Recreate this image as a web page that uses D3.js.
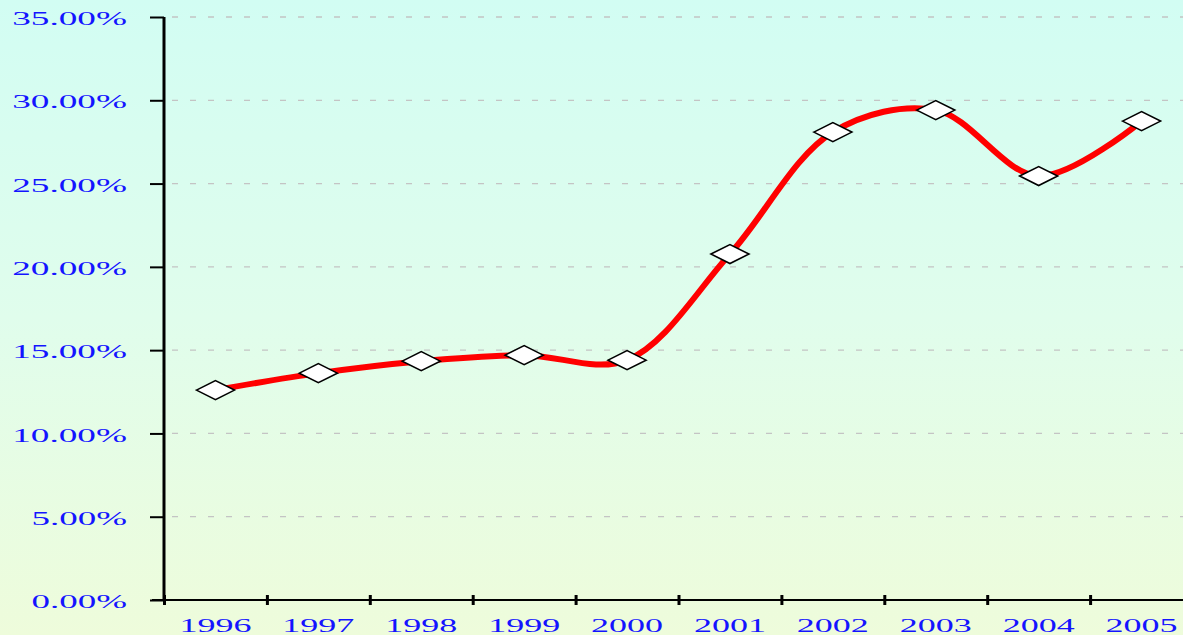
<!DOCTYPE html>
<html>
<head>
<meta charset="utf-8">
<script src="https://cdn.jsdelivr.net/npm/d3@7"></script>
<style>
  html, body { margin: 0; padding: 0; overflow: hidden; }
  svg { display: block; }
</style>
</head>
<body>
<svg id="chart" width="1183" height="635"></svg>
<script>
// data
const years = ['1996', '1997', '1998', '1999', '2000', '2001', '2002', '2003', '2004', '2005'];
const rates = [12.6, 13.62, 14.34, 14.7, 14.4, 20.77, 28.09, 29.41, 25.45, 28.75];
const yTicks = [0, 5, 10, 15, 20, 25, 30, 35];

const width = 1183, height = 635;
const plotLeft = 164, plotTop = 17, plotBottom = 600;
const step = 102.9;

const svg = d3.select('#chart');

// background gradient
const grad = svg.append('defs').append('linearGradient')
  .attr('id', 'bg').attr('x1', 0).attr('y1', 0).attr('x2', 0).attr('y2', 1);
grad.append('stop').attr('offset', '0%').attr('stop-color', '#d2fdf3');
grad.append('stop').attr('offset', '50%').attr('stop-color', '#e0fdec');
grad.append('stop').attr('offset', '100%').attr('stop-color', '#eefcdb');
svg.append('rect').attr('width', width).attr('height', height).attr('fill', 'url(#bg)');

const x = d3.scaleLinear().domain([0, years.length]).range([plotLeft, plotLeft + step * years.length]);
const y = d3.scaleLinear().domain([0, 35]).range([plotBottom, plotTop]);

// dashed gridlines
svg.append('g')
  .selectAll('line')
  .data(yTicks.filter(d => d > 0))
  .enter().append('line')
  .attr('x1', plotLeft + 8).attr('x2', width)
  .attr('y1', d => y(d)).attr('y2', d => y(d))
  .attr('stroke', '#c4c4c4')
  .attr('stroke-width', 1.3)
  .attr('stroke-dasharray', '6,12');

const font = 'Liberation Serif, DejaVu Serif, serif';
const pct = d => d3.format('.2f')(d) + '%';
const labelLen = d => pct(d).length * 19.3 - 1;

// y axis
const yAxis = svg.append('g')
  .attr('transform', `translate(${plotLeft},0)`)
  .call(d3.axisLeft(y).tickValues(yTicks).tickSize(14).tickFormat(pct));
yAxis.select('.domain').attr('stroke', '#000').attr('stroke-width', 3)
  .attr('d', `M0,${plotTop}V${plotBottom}`);
yAxis.selectAll('.tick line').attr('stroke', '#000').attr('stroke-width', 2);
yAxis.selectAll('.tick text')
  .attr('text-anchor', 'start')
  .attr('x', d => -37 - labelLen(d))
  .attr('fill', '#1414ff')
  .style('font-family', font)
  .style('font-size', '19px')
  .attr('dy', '0.4em')
  .attr('textLength', labelLen)
  .attr('lengthAdjust', 'spacingAndGlyphs');

// x axis
const xAxis = svg.append('g')
  .attr('transform', `translate(0,${plotBottom})`)
  .call(d3.axisBottom(x).tickValues(d3.range(0, years.length + 1)).tickSize(5).tickFormat(''));
xAxis.select('.domain').attr('stroke', '#000').attr('stroke-width', 2)
  .attr('d', `M${plotLeft - 12},0H${width}`);
xAxis.selectAll('.tick line').attr('stroke', '#000').attr('stroke-width', 3).attr('y1', -5);

svg.append('g')
  .selectAll('text')
  .data(years)
  .enter().append('text')
  .attr('x', (d, i) => x(i + 0.5) - 36)
  .attr('y', 632)
  .attr('fill', '#1414ff')
  .style('font-family', font)
  .style('font-size', '19px')
  .attr('textLength', 72)
  .attr('lengthAdjust', 'spacingAndGlyphs')
  .text(d => d);

// smoothed line
const line = d3.line()
  .x((d, i) => x(i + 0.5))
  .y(d => y(d))
  .curve(d3.curveCatmullRom.alpha(0.5));

svg.append('path')
  .datum(rates)
  .attr('d', line)
  .attr('fill', 'none')
  .attr('stroke', '#ff0000')
  .attr('stroke-width', 6)
  .attr('stroke-linejoin', 'round');

// diamond markers
svg.append('g')
  .selectAll('path')
  .data(rates)
  .enter().append('path')
  .attr('transform', (d, i) => `translate(${x(i + 0.5)},${y(d)})`)
  .attr('d', 'M-19,0L0,-9.5L19,0L0,9.5Z')
  .attr('fill', '#fff')
  .attr('stroke', '#000')
  .attr('stroke-width', 1.6);
</script>
</body>
</html>
